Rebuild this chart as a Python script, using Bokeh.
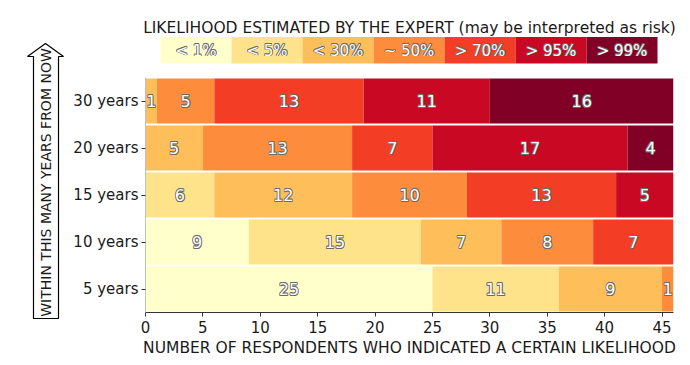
import numpy as np
from bokeh.plotting import figure
from bokeh.models import ColumnDataSource, Range1d, FixedTicker
from bokeh.layouts import row, column
from bokeh.embed import file_html
from bokeh.resources import INLINE
from bokeh.core.properties import value

# ---------------- data ----------------
years = ["5 years", "10 years", "15 years", "20 years", "30 years"]
likelihoods = ["< 1%", "< 5%", "< 30%", "~ 50%", "> 70%", "> 95%", "> 99%"]
lt1 = [25, 9, 0, 0, 0]
lt5 = [11, 15, 6, 0, 0]
lt30 = [9, 7, 12, 5, 1]
approx50 = [1, 8, 10, 13, 5]
gt70 = [0, 7, 13, 7, 13]
gt95 = [0, 0, 5, 17, 11]
gt99 = [0, 0, 0, 4, 16]
colors = ["#ffffcc", "#fee38b", "#febf5a", "#fd8d3c", "#f43d25", "#c90823", "#800026"]
x_ticks = [0, 5, 10, 15, 20, 25, 30, 35, 40, 45]

title_text = "LIKELIHOOD ESTIMATED BY THE EXPERT (may be interpreted as risk)"
x_label = "NUMBER OF RESPONDENTS WHO INDICATED A CERTAIN LIKELIHOOD"
y_label = "WITHIN THIS MANY YEARS FROM NOW"

FONT = "DejaVu Sans"
OFFS = [(-0.8, 0), (0.8, 0), (0, -0.8), (0, 0.8), (-0.6, -0.6), (0.6, 0.6), (-0.6, 0.6), (0.6, -0.6)]
OUTLINE = "#6a6a6a"


def outlined(fig, source, size):
    for dx, dy in OFFS:
        fig.text(x="x", y="y", text="label", source=source, x_offset=dx, y_offset=dy,
                 text_color=OUTLINE, text_font=value(FONT), text_font_size=size,
                 text_align="center", text_baseline="middle")
    fig.text(x="x", y="y", text="label", source=source, text_color="white",
             text_font=value(FONT), text_font_size=size, text_align="center",
             text_baseline="middle")


series = [lt1, lt5, lt30, approx50, gt70, gt95, gt99]
keys = ["s%d" % i for i in range(len(series))]
ypos = list(range(len(years)))
data = {"ypos": ypos}
for k, s in zip(keys, series):
    data[k] = s
src = ColumnDataSource(data)

COL_W = 620
BORDER_L = 75
BORDER_R = 17

# ---------------- main figure ----------------
p = figure(width=COL_W, height=295, y_range=Range1d(-0.5, len(years) - 0.5),
           x_range=Range1d(0, 46), output_backend="svg", toolbar_location=None,
           min_border_left=BORDER_L, min_border_right=BORDER_R, min_border_top=7,
           min_border_bottom=53)
p.outline_line_color = None
p.grid.visible = False
p.hbar_stack(keys, y="ypos", height=0.96, color=colors, line_color=None, source=src)

lx, ly, ll = [], [], []
for j in ypos:
    cum = 0
    for s in series:
        v = s[j]
        if v > 0:
            lx.append(cum + v / 2)
            ly.append(j)
            ll.append(str(v))
        cum += v
outlined(p, ColumnDataSource(dict(x=lx, y=ly, label=ll)), "16px")

p.xaxis.ticker = FixedTicker(ticks=x_ticks)
p.xaxis.axis_label = x_label
p.yaxis.ticker = FixedTicker(ticks=ypos)
p.yaxis.major_label_overrides = {i: y for i, y in zip(ypos, years)}
for ax in (p.xaxis[0], p.yaxis[0]):
    ax.major_label_text_font = FONT
    ax.major_label_text_font_size = "15px"
    ax.major_label_text_color = "#1a1a1a"
    ax.axis_label_text_font = FONT
    ax.axis_label_text_font_size = "15.5px"
    ax.axis_label_text_font_style = "normal"
    ax.axis_label_text_color = "#1a1a1a"
    ax.major_tick_out = 4
    ax.major_tick_in = 0
    ax.minor_tick_out = 0
    ax.minor_tick_in = 0
    ax.major_label_standoff = 3
p.xaxis.major_label_standoff = 4
p.xaxis.axis_label_standoff = 3
p.xaxis.axis_line_color = "#333333"
p.xaxis.major_tick_line_color = "#333333"
p.yaxis.axis_line_color = "#c0c0c0"
p.yaxis.major_tick_line_color = "#333333"

# ---------------- legend (colour key) figure ----------------
lg = figure(width=COL_W, height=70, x_range=Range1d(145, 673), y_range=Range1d(70, 36),
            output_backend="svg", toolbar_location=None, x_axis_type=None, y_axis_type=None,
            min_border_left=BORDER_L, min_border_right=BORDER_R, min_border_top=36,
            min_border_bottom=0, title=title_text)
lg.outline_line_color = None
lg.grid.visible = False
lg.title.align = "center"
lg.title.text_font = FONT
lg.title.text_font_size = "15.5px"
lg.title.text_font_style = "normal"
lg.title.text_color = "#1a1a1a"
lg.title.standoff = 0
lg.title.offset = 0

n = len(likelihoods)
box_w = 71.0
box_left0 = 160.0
lefts = [box_left0 + i * box_w for i in range(n)]
rights = [l + box_w for l in lefts]
lg.quad(left=lefts, right=rights, top=36.5, bottom=63, color=colors, line_color=None)
outlined(lg, ColumnDataSource(dict(x=[(l + r) / 2 for l, r in zip(lefts, rights)],
                                   y=[50] * n, label=likelihoods)), "15px")

# ---------------- arrow-shaped y label ----------------
ar = figure(width=70, height=365, x_range=Range1d(0, 70), y_range=Range1d(365, 0),
            output_backend="svg", toolbar_location=None, x_axis_type=None, y_axis_type=None,
            min_border=0)
ar.outline_line_color = None
ar.grid.visible = False
ar.patch(x=[45, 63, 58, 58, 33, 33, 27], y=[43, 56, 56, 318, 318, 56, 56],
         fill_color="white", line_color="black", line_width=1.2)
ar.text(x=[45.5], y=[182], text=[y_label], angle=np.pi / 2, text_font=value(FONT),
        text_font_size="14px", text_color="#1a1a1a", text_align="center",
        text_baseline="middle")

layout = row(ar, column(lg, p))
open("out.html", "w").write(file_html(layout, INLINE))
